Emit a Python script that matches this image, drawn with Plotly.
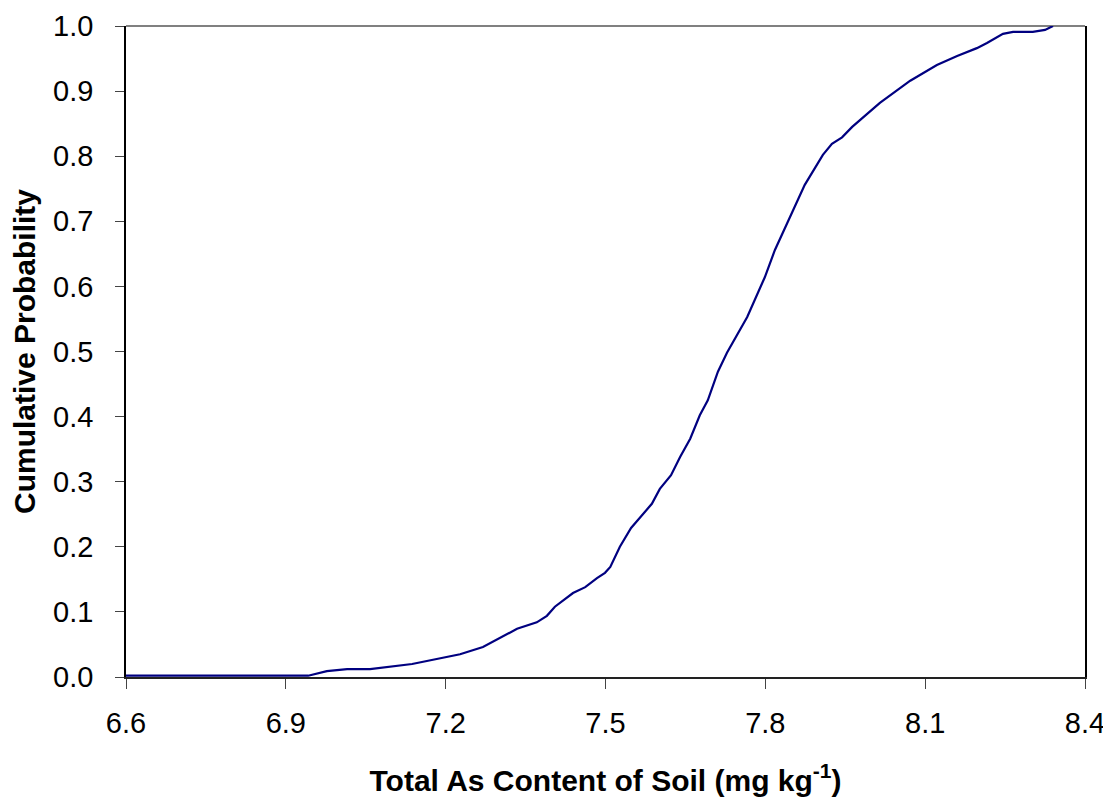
import plotly.graph_objects as go

# Data
as_content = [6.600, 6.942, 6.977, 7.015, 7.058, 7.137, 7.227, 7.270, 7.334, 7.371,
              7.390, 7.405, 7.439, 7.462, 7.484, 7.499, 7.509, 7.527, 7.548, 7.587,
              7.602, 7.623, 7.640, 7.659, 7.677, 7.692, 7.711, 7.728, 7.766, 7.799,
              7.818, 7.846, 7.874, 7.908, 7.925, 7.944, 7.963, 8.015, 8.072, 8.122,
              8.160, 8.197, 8.216, 8.246, 8.265, 8.302, 8.325, 8.340]
cum_prob = [0.002, 0.002, 0.009, 0.012, 0.012, 0.020, 0.035, 0.046, 0.074, 0.084,
            0.094, 0.108, 0.129, 0.138, 0.152, 0.160, 0.169, 0.200, 0.229, 0.266,
            0.289, 0.310, 0.338, 0.366, 0.402, 0.425, 0.469, 0.498, 0.553, 0.614,
            0.656, 0.705, 0.756, 0.802, 0.819, 0.829, 0.845, 0.882, 0.916, 0.940,
            0.954, 0.966, 0.974, 0.988, 0.991, 0.991, 0.994, 1.000]

x_ticks = [6.6, 6.9, 7.2, 7.5, 7.8, 8.1, 8.4]
x_tick_labels = ["6.6", "6.9", "7.2", "7.5", "7.8", "8.1", "8.4"]
y_ticks = [0.0, 0.1, 0.2, 0.3, 0.4, 0.5, 0.6, 0.7, 0.8, 0.9, 1.0]
y_tick_labels = ["0.0", "0.1", "0.2", "0.3", "0.4", "0.5", "0.6", "0.7", "0.8", "0.9", "1.0"]

fig = go.Figure()
fig.add_trace(go.Scatter(
    x=as_content, y=cum_prob, mode="lines",
    line=dict(color="#000080", width=2.2),
    showlegend=False, cliponaxis=False,
))

font_family = "Liberation Sans, Arial, sans-serif"

# page body has an 8px margin, so the figure is sized/margined to compensate
fig.update_layout(
    width=1103, height=795,
    margin=dict(l=118, r=26, t=18, b=126),
    paper_bgcolor="white", plot_bgcolor="white",
    font=dict(family=font_family, color="black"),
    xaxis=dict(
        range=[6.6, 8.4], tickvals=x_ticks, ticktext=x_tick_labels,
        showgrid=False, zeroline=False, automargin=False,
        showline=True, linecolor="#222222", linewidth=1.5,
        ticks="outside", ticklen=10, tickcolor="#444444", tickwidth=1,
        tickfont=dict(size=29, family=font_family, color="black"),
        ticklabelstandoff=9,
        title=dict(text="<b>Total As Content of Soil (mg kg<sup>-1</sup>)</b>",
                   font=dict(size=30, family=font_family, color="black"),
                   standoff=32),
    ),
    yaxis=dict(
        range=[0, 1.0], tickvals=y_ticks, ticktext=y_tick_labels,
        showgrid=False, zeroline=False, automargin=False,
        showline=True, linecolor="black", linewidth=1.5, mirror=True,
        ticks="outside", ticklen=9, tickcolor="#444444", tickwidth=1,
        tickfont=dict(size=29, family=font_family, color="black"),
        ticklabelstandoff=16,
        title=dict(text="<b>Cumulative Probability</b>",
                   font=dict(size=30, family=font_family, color="black"),
                   standoff=9),
    ),
    shapes=[dict(type="line", xref="paper", yref="paper", x0=0, x1=1, y0=1, y1=1,
                 line=dict(color="#808080", width=2), layer="below")],
)

fig.write_html("out.html")
